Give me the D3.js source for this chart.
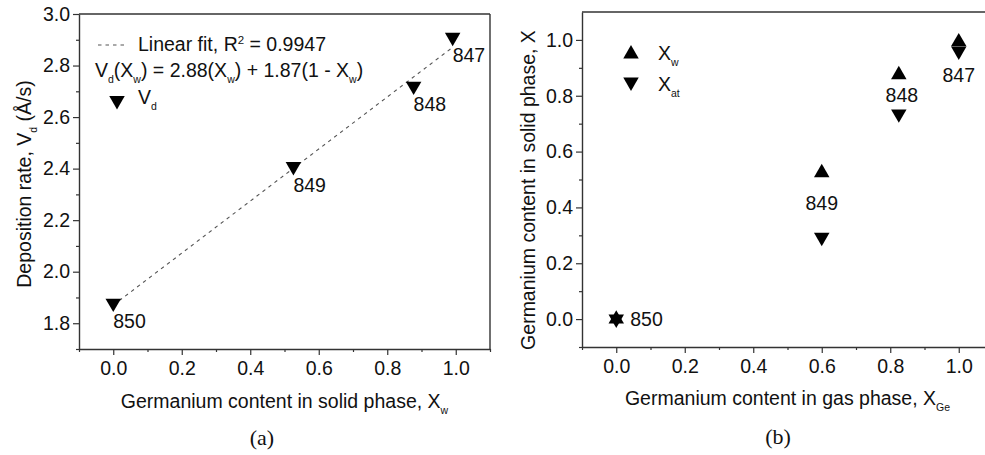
<!DOCTYPE html>
<html>
<head>
<meta charset="utf-8">
<script src="https://cdn.jsdelivr.net/npm/d3@7/dist/d3.min.js"></script>
<style>
  html, body { margin: 0; padding: 0; background: #fff; }
  svg text { font-family: "Liberation Sans", Arial, sans-serif; fill: #111; }
</style>
</head>
<body>
<svg id="chart" width="985" height="455"></svg>
<script>
// ---------------- DATA ----------------
// Panel (a)
const samplesA = ["850", "849", "848", "847"];
const xSolid = [0.0, 0.526, 0.877, 0.991];
const depRate = [1.878, 2.408, 2.72, 2.91];
const fitSlopeEnd = 2.88;   // Vd at Xw = 1
const fitInterceptEnd = 1.87; // Vd at Xw = 0
const fitXRange = [0.0, 0.991];
const fitR2 = "0.9947";
const ticksAx = [0.0, 0.2, 0.4, 0.6, 0.8, 1.0];
const ticksAxMinor = [-0.1, 0.1, 0.3, 0.5, 0.7, 0.9, 1.1];
const ticksAy = [1.8, 2.0, 2.2, 2.4, 2.6, 2.8, 3.0];
const ticksAyMinor = [1.7, 1.9, 2.1, 2.3, 2.5, 2.7, 2.9];

// Panel (b)
const samplesB = ["850", "849", "848", "847"];
const xGas = [0.0, 0.6, 0.825, 1.0];
const xW = [0.0, 0.524, 0.875, 0.993];
const xAt = [0.0, 0.293, 0.735, 0.96];
const ticksBx = [0.0, 0.2, 0.4, 0.6, 0.8, 1.0];
const ticksBxMinor = [-0.1, 0.1, 0.3, 0.5, 0.7, 0.9, 1.1];
const ticksBy = [0.0, 0.2, 0.4, 0.6, 0.8, 1.0];
const ticksByMinor = [-0.1, 0.1, 0.3, 0.5, 0.7, 0.9];

// ---------------- SETUP ----------------
const svg = d3.select("#chart");
const FS = 19.5;
const AXC = "#333";
const fmt = d3.format(".1f");
const triSize = 104;
const upTri = d3.symbol().type(d3.symbolTriangle).size(triSize);

function richText(g, x, y, parts, opts = {}) {
  const t = g.append("text").attr("x", x).attr("y", y)
    .attr("font-size", opts.size || FS)
    .attr("text-anchor", opts.anchor || "start");
  if (opts.transform) t.attr("transform", opts.transform);
  let shift = 0;
  parts.forEach(p => {
    const ts = t.append("tspan");
    let target = 0, size = opts.size || FS;
    if (p.sub) { target = 6; size = 10.5; }
    if (p.sup) { target = -7; size = 11.5; }
    ts.attr("dy", target - shift).attr("font-size", size).text(p.t);
    shift = target;
  });
  return t;
}

function drawAxes(x, y, tx, txm, ty, tym) {
  const [x0, x1] = x.range();
  const [y0, y1] = y.range();
  const g = svg.append("g");
  g.append("line").attr("x1", x0).attr("x2", x1).attr("y1", y1).attr("y2", y1)
    .attr("stroke", AXC).attr("stroke-width", 1.4);
  g.append("line").attr("x1", x1).attr("x2", x1).attr("y1", y1).attr("y2", y0)
    .attr("stroke", AXC).attr("stroke-width", 1.4);

  const xa = g.append("g").attr("transform", `translate(0,${y0})`)
    .call(d3.axisBottom(x).tickValues(tx).tickFormat(fmt).tickSize(6).tickPadding(6).tickSizeOuter(0));
  const xam = g.append("g").attr("transform", `translate(0,${y0})`)
    .call(d3.axisBottom(x).tickValues(txm).tickFormat("").tickSize(3).tickSizeOuter(0));
  const ya = g.append("g").attr("transform", `translate(${x0},0)`)
    .call(d3.axisLeft(y).tickValues(ty).tickFormat(fmt).tickSize(6).tickPadding(3).tickSizeOuter(0));
  const yam = g.append("g").attr("transform", `translate(${x0},0)`)
    .call(d3.axisLeft(y).tickValues(tym).tickFormat("").tickSize(3).tickSizeOuter(0));
  [xa, xam, ya, yam].forEach(a => {
    a.select(".domain").attr("stroke", AXC).attr("stroke-width", 1.4);
    a.selectAll(".tick line").attr("stroke", AXC).attr("stroke-width", 1.2);
    a.selectAll("text").attr("font-size", FS).attr("fill", "#111")
      .attr("font-family", '"Liberation Sans", Arial, sans-serif');
  });
  xam.select(".domain").remove();
  yam.select(".domain").remove();
  return g;
}

// ---------------- PANEL (a) ----------------
const xA = d3.scaleLinear().domain([-0.1, 1.1]).range([79, 490]);
const yA = d3.scaleLinear().domain([1.7, 3.0]).range([349, 14]);
drawAxes(xA, yA, ticksAx, ticksAxMinor, ticksAy, ticksAyMinor);

const gA = svg.append("g");
const fitPts = fitXRange.map(v => [v, fitSlopeEnd * v + fitInterceptEnd * (1 - v)]);
gA.append("path")
  .attr("d", d3.line().x(d => xA(d[0])).y(d => yA(d[1]))(fitPts))
  .attr("fill", "none").attr("stroke", "#555").attr("stroke-width", 1.1)
  .attr("stroke-dasharray", "3.5,4");

gA.selectAll(".ptA").data(samplesA).enter().append("path")
  .attr("d", upTri)
  .attr("transform", (d, i) => `translate(${xA(xSolid[i])},${yA(depRate[i])}) rotate(180)`)
  .attr("fill", "#000");
gA.selectAll(".lblA").data(samplesA).enter().append("text")
  .attr("x", (d, i) => xA(xSolid[i]))
  .attr("y", (d, i) => yA(depRate[i]) + 25)
  .attr("font-size", FS).text(d => d);

// legend (a)
gA.append("line").attr("x1", 98).attr("x2", 126).attr("y1", 45).attr("y2", 45)
  .attr("stroke", "#555").attr("stroke-width", 1.1).attr("stroke-dasharray", "3.5,4");
richText(gA, 138, 51, [{t: "Linear fit, R"}, {t: "2", sup: true}, {t: " = " + fitR2}]);
richText(gA, 95, 77, [
  {t: "V"}, {t: "d", sub: true}, {t: "(X"}, {t: "w", sub: true},
  {t: ") = " + fitSlopeEnd.toFixed(2) + "(X"}, {t: "w", sub: true},
  {t: ") + " + fitInterceptEnd.toFixed(2) + "(1 - X"}, {t: "w", sub: true}, {t: ")"}
]);
gA.append("path").attr("d", upTri)
  .attr("transform", "translate(117,100.5) rotate(180)").attr("fill", "#000");
richText(gA, 138, 104, [{t: "V"}, {t: "d", sub: true}]);

// axis titles (a)
richText(svg, 284.5, 408, [{t: "Germanium content in solid phase, X"}, {t: "w", sub: true}], {anchor: "middle"});
richText(svg, 0, 0, [{t: "Deposition rate, V"}, {t: "d", sub: true}, {t: " (Å/s)"}],
  {anchor: "middle", transform: "translate(31,184) rotate(-90)"});
svg.append("text").attr("x", 262).attr("y", 445).attr("text-anchor", "middle")
  .attr("font-size", 22).style("font-family", '"Liberation Serif", "Times New Roman", serif')
  .text("(a)");

// ---------------- PANEL (b) ----------------
const xB = d3.scaleLinear().domain([-0.1, 1.1]).range([582, 993]);
const yB = d3.scaleLinear().domain([-0.1, 1.1]).range([347, 12]);
drawAxes(xB, yB, ticksBx, ticksBxMinor, ticksBy, ticksByMinor);

const gB = svg.append("g");
gB.selectAll(".upB").data(samplesB).enter().append("path")
  .attr("d", upTri)
  .attr("transform", (d, i) => `translate(${xB(xGas[i])},${yB(xW[i])})`)
  .attr("fill", "#000");
gB.selectAll(".dnB").data(samplesB).enter().append("path")
  .attr("d", upTri)
  .attr("transform", (d, i) => `translate(${xB(xGas[i])},${yB(xAt[i])}) rotate(180)`)
  .attr("fill", "#000");

const lblB = {
  "850": (i) => ({x: xB(xGas[i]) + 14, y: yB(xW[i]) + 7, a: "start"}),
  "849": (i) => ({x: xB(xGas[i]), y: yB(xW[i]) + 37, a: "middle"}),
  "848": (i) => ({x: xB(xGas[i]) + 3, y: yB(xW[i]) + 27, a: "middle"}),
  "847": (i) => ({x: xB(xGas[i]), y: yB(xAt[i]) + 31, a: "middle"})
};
samplesB.forEach((s, i) => {
  const p = lblB[s](i);
  gB.append("text").attr("x", p.x).attr("y", p.y).attr("text-anchor", p.a)
    .attr("font-size", FS).text(s);
});

// legend (b)
gB.append("path").attr("d", upTri).attr("transform", "translate(631,54)").attr("fill", "#000");
gB.append("path").attr("d", upTri).attr("transform", "translate(631,82) rotate(180)").attr("fill", "#000");
richText(gB, 658, 60, [{t: "X"}, {t: "w", sub: true}]);
richText(gB, 658, 91, [{t: "X"}, {t: "at", sub: true}]);

// axis titles (b)
richText(svg, 787.5, 405, [{t: "Germanium content in gas phase, X"}, {t: "Ge", sub: true}], {anchor: "middle"});
richText(svg, 0, 0, [{t: "Germanium content in solid phase, X"}],
  {anchor: "middle", transform: "translate(535,190) rotate(-90)"});
svg.append("text").attr("x", 778).attr("y", 444).attr("text-anchor", "middle")
  .attr("font-size", 22).style("font-family", '"Liberation Serif", "Times New Roman", serif')
  .text("(b)");
</script>
</body>
</html>
